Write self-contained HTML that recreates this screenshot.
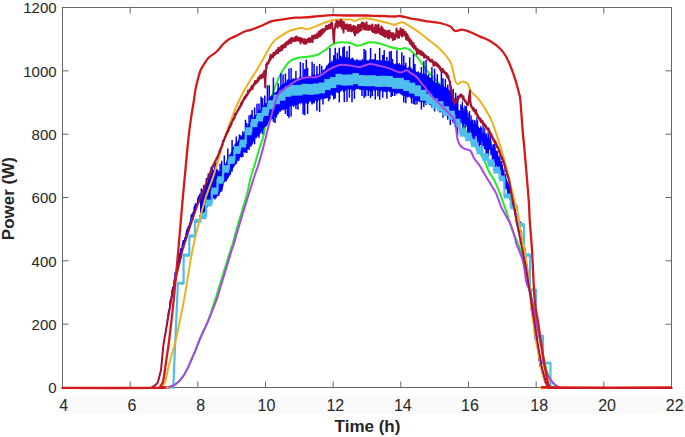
<!DOCTYPE html>
<html><head><meta charset="utf-8"><style>
html,body{margin:0;padding:0;background:#fff;width:685px;height:437px;overflow:hidden;font-family:"Liberation Sans",sans-serif}
</style></head><body>
<svg width="685" height="437" viewBox="0 0 685 437" style="position:absolute;left:0;top:0">
<rect x="57" y="396" width="628" height="18" fill="#fafafa"/>
<rect x="62.5" y="7.5" width="609" height="380" fill="#fff" stroke="#666" stroke-width="1"/>
<path d="M62.50 387.5 V381.5 M62.50 7.5 V13.5 M130.17 387.5 V381.5 M130.17 7.5 V13.5 M197.83 387.5 V381.5 M197.83 7.5 V13.5 M265.50 387.5 V381.5 M265.50 7.5 V13.5 M333.17 387.5 V381.5 M333.17 7.5 V13.5 M400.83 387.5 V381.5 M400.83 7.5 V13.5 M468.50 387.5 V381.5 M468.50 7.5 V13.5 M536.17 387.5 V381.5 M536.17 7.5 V13.5 M603.83 387.5 V381.5 M603.83 7.5 V13.5 M671.50 387.5 V381.5 M671.50 7.5 V13.5 M62.5 387.50 H68.5 M671.5 387.50 H665.5 M62.5 324.17 H68.5 M671.5 324.17 H665.5 M62.5 260.83 H68.5 M671.5 260.83 H665.5 M62.5 197.50 H68.5 M671.5 197.50 H665.5 M62.5 134.17 H68.5 M671.5 134.17 H665.5 M62.5 70.83 H68.5 M671.5 70.83 H665.5 M62.5 7.50 H68.5 M671.5 7.50 H665.5" stroke="#666" stroke-width="1" fill="none"/>
<path d="M62.50 387.90 C78.75 387.90 141.85 388.17 160.00 387.90 C178.15 387.63 168.53 387.12 171.40 386.30 C174.27 385.48 175.28 384.62 177.20 383.00 C179.12 381.38 181.18 379.00 182.90 376.60 C184.62 374.20 186.07 371.45 187.50 368.60 C188.93 365.75 190.17 362.55 191.50 359.50 C192.83 356.45 194.17 353.55 195.50 350.30 C196.83 347.05 198.08 343.38 199.50 340.00 C200.92 336.62 202.50 333.33 204.00 330.00 C205.50 326.67 206.67 325.00 208.50 320.00 C210.33 315.00 213.38 305.00 215.00 300.00 C216.62 295.00 215.62 298.33 218.20 290.00 C220.78 281.67 228.13 257.50 230.50 250.00 C232.87 242.50 231.43 248.33 232.40 245.00 C233.37 241.67 235.05 234.52 236.30 230.00 C237.55 225.48 238.17 223.73 239.90 217.90 C241.63 212.07 244.92 201.65 246.70 195.00 C248.48 188.35 249.28 183.00 250.60 178.00 C251.92 173.00 253.17 169.80 254.60 165.00 C256.03 160.20 257.83 153.67 259.20 149.20 C260.57 144.73 261.58 142.73 262.80 138.20 C264.02 133.67 265.30 127.70 266.50 122.00 C267.70 116.30 268.92 108.83 270.00 104.00 C271.08 99.17 271.83 96.67 273.00 93.00 C274.17 89.33 275.80 85.00 277.00 82.00 C278.20 79.00 278.75 77.70 280.20 75.00 C281.65 72.30 283.87 68.25 285.70 65.80 C287.53 63.35 288.90 61.67 291.20 60.30 C293.50 58.93 297.20 58.15 299.50 57.60 C301.80 57.05 302.25 57.38 305.00 57.00 C307.75 56.62 312.57 56.50 316.00 55.30 C319.43 54.10 322.85 51.63 325.60 49.80 C328.35 47.97 329.98 45.55 332.50 44.30 C335.02 43.05 337.73 42.52 340.70 42.30 C343.67 42.08 347.55 42.43 350.30 43.00 C353.05 43.57 354.75 45.58 357.20 45.70 C359.65 45.82 362.87 44.27 365.00 43.70 C367.13 43.13 367.50 42.33 370.00 42.30 C372.50 42.27 376.67 42.72 380.00 43.50 C383.33 44.28 386.67 46.08 390.00 47.00 C393.33 47.92 397.50 48.83 400.00 49.00 C402.50 49.17 403.33 47.83 405.00 48.00 C406.67 48.17 407.80 48.30 410.00 50.00 C412.20 51.70 415.92 55.45 418.20 58.20 C420.48 60.95 421.63 63.75 423.70 66.50 C425.77 69.25 428.30 72.18 430.60 74.70 C432.90 77.22 435.22 79.30 437.50 81.60 C439.78 83.90 442.12 86.02 444.30 88.50 C446.48 90.98 448.52 93.12 450.60 96.50 C452.68 99.88 454.73 104.05 456.80 108.80 C458.87 113.55 460.80 120.13 463.00 125.00 C465.20 129.87 467.83 134.25 470.00 138.00 C472.17 141.75 473.78 144.08 476.00 147.50 C478.22 150.92 481.17 154.53 483.30 158.50 C485.43 162.47 486.97 167.65 488.80 171.30 C490.63 174.95 492.47 176.73 494.30 180.40 C496.13 184.07 497.75 187.97 499.80 193.30 C501.85 198.63 504.52 206.28 506.60 212.40 C508.68 218.52 510.15 224.15 512.30 230.00 C514.45 235.85 517.38 241.67 519.50 247.50 C521.62 253.33 523.25 257.92 525.00 265.00 C526.75 272.08 528.17 280.83 530.00 290.00 C531.83 299.17 534.17 310.83 536.00 320.00 C537.83 329.17 539.33 337.00 541.00 345.00 C542.67 353.00 544.33 362.00 546.00 368.00 C547.67 374.00 549.20 377.98 551.00 381.00 C552.80 384.02 555.30 384.95 556.80 386.10 C558.30 387.25 540.88 387.60 560.00 387.90 C579.12 388.20 652.92 387.90 671.50 387.90" stroke="#22ee22" stroke-width="2.0" fill="none" stroke-linejoin="round"/>
<path d="M165.0 335.8 L165.3 333.7 L165.7 331.7 L166.0 329.6 L166.4 327.1 L166.7 325.7 L167.1 323.4 L167.4 319.2 L167.8 317.6 L168.1 314.2 L168.5 311.5 L168.8 310.7 L169.2 311.4 L169.5 309.1 L169.9 302.3 L170.2 300.4 L170.6 299.6 L170.9 301.1 L171.3 297.0 L171.6 297.4 L172.0 289.3 L172.3 294.4 L172.7 286.7 L173.0 288.4 L173.4 288.9 L173.7 286.0 L174.1 279.4 L174.4 282.3 L174.8 278.2 L175.1 272.3 L175.5 273.9 L175.8 272.0 L176.2 273.8 L176.5 268.3 L176.9 270.4 L177.2 269.9 L177.6 262.1 L177.9 259.8 L178.3 265.4 L178.6 260.9 L179.0 254.7 L179.3 252.8 L179.7 262.9 L180.0 256.6 L180.4 251.5 L180.7 248.2 L181.1 257.8 L181.4 252.0 L181.8 251.2 L182.1 245.6 L182.5 244.0 L182.8 244.0 L183.2 240.0 L183.5 244.2 L183.9 240.8 L184.2 244.1 L184.6 238.5 L184.9 237.9 L185.3 237.3 L185.6 241.0 L186.0 233.4 L186.3 236.2 L186.7 230.0 L187.0 232.6 L187.4 228.3 L187.7 233.7 L188.1 226.2 L188.4 231.3 L188.8 228.2 L189.1 224.9 L189.5 228.8 L189.8 222.2 L190.2 224.8 L190.5 222.3 L190.9 219.7 L191.2 214.7 L191.6 217.3 L191.9 214.9 L192.3 215.5 L192.6 219.8 L193.0 211.9 L193.3 215.0 L193.7 213.8 L194.0 208.4 L194.4 209.1 L194.7 205.3 L195.1 212.0 L195.4 204.6 L195.8 205.2 L196.1 203.7 L196.5 207.1 L196.8 206.4 L197.2 203.3 L197.5 202.0 L197.9 197.4 L198.2 203.3 L198.6 195.7 L198.9 197.1 L199.3 196.4 L199.6 198.5 L200.0 197.2 L200.3 193.6 L200.7 197.4 L201.0 197.0 L201.4 188.3 L201.7 192.7" stroke="#0000ff" stroke-width="1.3" fill="none"/>
<path d="M200.0 196.9 L200.8 194.3 L201.6 192.4 L202.4 189.7 L203.2 188.6 L204.0 186.1 L204.8 185.0 L205.6 183.2 L206.4 181.7 L207.2 178.3 L208.0 178.0 L208.8 175.8 L209.6 174.4 L210.4 174.1 L211.2 170.5 L212.0 170.9 L212.8 169.9 L213.6 169.9 L214.4 167.8 L215.2 169.6 L216.0 167.9 L216.8 169.0 L217.6 169.0 L218.4 170.4 L219.2 172.1 L220.0 170.8 L220.8 169.7 L221.6 169.9 L222.4 168.5 L223.2 167.6 L224.0 164.9 L224.8 165.3 L225.6 163.4 L226.4 161.7 L227.2 158.0 L228.0 157.3 L228.8 154.2 L229.6 155.0 L230.4 153.6 L231.2 152.0 L232.0 148.0 L232.8 147.5 L233.6 146.6 L234.4 145.2 L235.2 142.6 L236.0 143.9 L236.8 141.6 L237.6 141.4 L238.4 139.5 L239.2 140.0 L240.0 137.9 L240.8 136.5 L241.6 136.5 L242.4 134.5 L243.2 134.7 L244.0 131.8 L244.8 131.1 L245.6 128.5 L246.4 127.4 L247.2 126.5 L248.0 125.2 L248.8 123.3 L249.6 122.9 L250.4 119.3 L251.2 120.6 L252.0 117.6 L252.8 119.1 L253.6 116.8 L254.4 115.4 L255.2 115.1 L256.0 115.1 L256.8 114.6 L257.6 112.1 L258.4 110.1 L259.2 109.8 L260.0 111.0 L260.8 109.7 L261.6 108.7 L262.4 106.1 L263.2 106.3 L264.0 103.8 L264.8 103.1 L265.6 102.7 L266.4 103.7 L267.2 101.8 L268.0 101.4 L268.8 98.1 L269.6 98.2 L270.4 96.3 L271.2 95.8 L272.0 94.4 L272.8 95.9 L273.6 93.2 L274.4 92.7 L275.2 92.2 L276.0 92.0 L276.8 91.2 L277.6 89.1 L278.4 87.9 L279.2 88.2 L280.0 85.7 L280.8 84.9 L281.6 85.8 L282.4 83.8 L283.2 83.7 L284.0 83.4 L284.8 83.1 L285.6 82.2 L286.4 82.0 L287.2 81.5 L288.0 79.8 L288.8 81.7 L289.6 78.9 L290.4 80.0 L291.2 79.9 L292.0 79.3 L292.8 78.6 L293.6 78.1 L294.4 78.7 L295.2 78.4 L296.0 78.8 L296.8 77.8 L297.6 79.2 L298.4 78.3 L299.2 76.7 L300.0 77.7 L300.8 79.2 L301.6 76.2 L302.4 77.8 L303.2 78.7 L304.0 76.8 L304.8 77.3 L305.6 76.5 L306.4 76.1 L307.2 76.9 L308.0 76.7 L308.8 75.7 L309.6 76.1 L310.4 76.0 L311.2 76.5 L312.0 74.3 L312.8 74.2 L313.6 74.5 L314.4 74.4 L315.2 75.8 L316.0 74.6 L316.8 75.7 L317.6 74.2 L318.4 73.7 L319.2 74.7 L320.0 72.8 L320.8 74.5 L321.6 73.1 L322.4 70.6 L323.2 69.6 L324.0 70.2 L324.8 69.1 L325.6 67.7 L326.4 65.0 L327.2 66.2 L328.0 63.0 L328.8 63.8 L329.6 62.6 L330.4 63.1 L331.2 61.8 L332.0 59.6 L332.8 61.9 L333.6 61.0 L334.4 60.0 L335.2 57.9 L336.0 59.7 L336.8 58.4 L337.6 58.7 L338.4 59.3 L339.2 58.7 L340.0 55.7 L340.8 58.0 L341.6 57.1 L342.4 58.1 L343.2 57.1 L344.0 57.4 L344.8 57.5 L345.6 56.7 L346.4 57.4 L347.2 58.8 L348.0 56.9 L348.8 57.2 L349.6 59.4 L350.4 59.1 L351.2 58.8 L352.0 57.6 L352.8 57.8 L353.6 58.5 L354.4 60.5 L355.2 59.5 L356.0 60.7 L356.8 58.7 L357.6 59.4 L358.4 59.9 L359.2 60.9 L360.0 58.9 L360.8 61.1 L361.6 59.9 L362.4 58.6 L363.2 59.8 L364.0 59.6 L364.8 60.5 L365.6 61.3 L366.4 60.0 L367.2 60.6 L368.0 59.7 L368.8 60.8 L369.6 58.8 L370.4 60.7 L371.2 59.0 L372.0 60.3 L372.8 59.1 L373.6 59.5 L374.4 59.0 L375.2 59.5 L376.0 60.3 L376.8 60.1 L377.6 59.7 L378.4 60.2 L379.2 61.0 L380.0 59.6 L380.8 60.4 L381.6 60.3 L382.4 61.9 L383.2 60.1 L384.0 61.4 L384.8 60.2 L385.6 60.4 L386.4 62.0 L387.2 61.7 L388.0 60.9 L388.8 60.5 L389.6 62.9 L390.4 61.7 L391.2 62.9 L392.0 62.2 L392.8 62.9 L393.6 62.9 L394.4 64.3 L395.2 64.3 L396.0 63.1 L396.8 63.3 L397.6 62.7 L398.4 64.4 L399.2 62.6 L400.0 63.4 L400.8 65.4 L401.6 63.2 L402.4 65.6 L403.2 65.5 L404.0 65.8 L404.8 65.4 L405.6 65.2 L406.4 67.9 L407.2 67.7 L408.0 68.1 L408.8 66.3 L409.6 68.7 L410.4 67.3 L411.2 67.6 L412.0 68.9 L412.8 69.4 L413.6 68.3 L414.4 70.6 L415.2 70.3 L416.0 71.6 L416.8 72.0 L417.6 71.6 L418.4 71.0 L419.2 73.0 L420.0 72.7 L420.8 71.9 L421.6 74.0 L422.4 74.1 L423.2 73.2 L424.0 73.6 L424.8 73.4 L425.6 75.5 L426.4 75.1 L427.2 75.7 L428.0 76.1 L428.8 76.2 L429.6 77.7 L430.4 77.6 L431.2 78.1 L432.0 78.5 L432.8 79.7 L433.6 81.3 L434.4 79.6 L435.2 82.2 L436.0 82.7 L436.8 82.4 L437.6 82.7 L438.4 83.7 L439.2 83.6 L440.0 84.5 L440.8 85.7 L441.6 85.8 L442.4 84.7 L443.2 84.6 L444.0 87.7 L444.8 86.5 L445.6 88.2 L446.4 87.0 L447.2 88.2 L448.0 88.4 L448.8 90.0 L449.6 91.1 L450.4 90.8 L451.2 92.6 L452.0 93.5 L452.8 94.8 L453.6 98.5 L454.4 97.6 L455.2 101.3 L456.0 100.3 L456.8 98.5 L457.6 100.8 L458.4 98.3 L458.4 127.3 L457.6 126.9 L456.8 127.1 L456.0 127.2 L455.2 126.9 L454.4 125.5 L453.6 122.9 L452.8 123.4 L452.0 120.2 L451.2 118.5 L450.4 118.2 L449.6 117.3 L448.8 117.0 L448.0 116.8 L447.2 117.1 L446.4 115.3 L445.6 115.6 L444.8 114.7 L444.0 114.0 L443.2 113.7 L442.4 110.6 L441.6 112.0 L440.8 109.5 L440.0 110.4 L439.2 111.0 L438.4 109.8 L437.6 109.1 L436.8 107.1 L436.0 107.0 L435.2 108.2 L434.4 108.1 L433.6 105.0 L432.8 106.2 L432.0 103.9 L431.2 105.2 L430.4 105.5 L429.6 105.1 L428.8 104.0 L428.0 104.3 L427.2 102.7 L426.4 103.0 L425.6 101.2 L424.8 103.7 L424.0 101.4 L423.2 101.4 L422.4 102.7 L421.6 100.5 L420.8 102.1 L420.0 101.9 L419.2 101.4 L418.4 101.3 L417.6 100.7 L416.8 101.1 L416.0 101.0 L415.2 100.2 L414.4 100.0 L413.6 97.9 L412.8 97.6 L412.0 97.7 L411.2 97.9 L410.4 98.7 L409.6 96.7 L408.8 97.0 L408.0 96.8 L407.2 97.9 L406.4 96.4 L405.6 95.7 L404.8 95.7 L404.0 96.6 L403.2 94.4 L402.4 95.7 L401.6 95.5 L400.8 93.5 L400.0 94.9 L399.2 92.6 L398.4 93.6 L397.6 93.0 L396.8 94.9 L396.0 93.8 L395.2 93.2 L394.4 93.2 L393.6 91.8 L392.8 92.8 L392.0 93.2 L391.2 92.9 L390.4 91.9 L389.6 92.4 L388.8 90.8 L388.0 91.8 L387.2 92.1 L386.4 93.2 L385.6 91.8 L384.8 91.9 L384.0 91.1 L383.2 92.0 L382.4 90.2 L381.6 90.6 L380.8 92.5 L380.0 90.0 L379.2 91.2 L378.4 90.1 L377.6 91.6 L376.8 89.9 L376.0 90.2 L375.2 92.2 L374.4 90.7 L373.6 89.7 L372.8 91.8 L372.0 91.7 L371.2 91.9 L370.4 89.7 L369.6 91.7 L368.8 89.9 L368.0 90.3 L367.2 90.5 L366.4 90.1 L365.6 90.5 L364.8 91.4 L364.0 89.8 L363.2 89.6 L362.4 90.5 L361.6 90.0 L360.8 89.6 L360.0 90.4 L359.2 89.3 L358.4 88.7 L357.6 89.5 L356.8 88.7 L356.0 89.2 L355.2 90.1 L354.4 90.7 L353.6 90.3 L352.8 91.3 L352.0 89.6 L351.2 89.0 L350.4 89.6 L349.6 91.2 L348.8 89.6 L348.0 89.6 L347.2 89.3 L346.4 90.4 L345.6 91.5 L344.8 89.3 L344.0 92.2 L343.2 92.2 L342.4 90.0 L341.6 90.8 L340.8 92.0 L340.0 91.3 L339.2 91.3 L338.4 93.2 L337.6 93.1 L336.8 92.0 L336.0 93.2 L335.2 92.9 L334.4 92.8 L333.6 94.2 L332.8 95.9 L332.0 95.8 L331.2 94.8 L330.4 94.5 L329.6 95.4 L328.8 95.3 L328.0 98.3 L327.2 97.5 L326.4 98.6 L325.6 98.4 L324.8 98.7 L324.0 99.1 L323.2 98.3 L322.4 98.8 L321.6 99.6 L320.8 99.2 L320.0 100.5 L319.2 100.2 L318.4 100.0 L317.6 102.7 L316.8 100.8 L316.0 100.5 L315.2 101.3 L314.4 101.7 L313.6 103.3 L312.8 102.8 L312.0 103.3 L311.2 102.9 L310.4 101.3 L309.6 101.6 L308.8 104.0 L308.0 103.4 L307.2 101.8 L306.4 104.3 L305.6 102.7 L304.8 104.6 L304.0 104.8 L303.2 104.7 L302.4 102.8 L301.6 102.7 L300.8 105.1 L300.0 102.7 L299.2 103.8 L298.4 104.3 L297.6 103.0 L296.8 105.6 L296.0 104.7 L295.2 105.7 L294.4 105.4 L293.6 104.6 L292.8 105.1 L292.0 106.5 L291.2 105.3 L290.4 106.8 L289.6 107.1 L288.8 105.6 L288.0 106.9 L287.2 109.2 L286.4 109.4 L285.6 108.2 L284.8 108.7 L284.0 111.1 L283.2 109.8 L282.4 109.7 L281.6 110.3 L280.8 112.3 L280.0 110.7 L279.2 112.8 L278.4 114.3 L277.6 114.7 L276.8 115.6 L276.0 115.1 L275.2 115.7 L274.4 116.2 L273.6 116.8 L272.8 119.6 L272.0 118.5 L271.2 120.0 L270.4 119.9 L269.6 122.0 L268.8 121.9 L268.0 123.3 L267.2 125.8 L266.4 126.0 L265.6 126.4 L264.8 127.2 L264.0 128.2 L263.2 131.3 L262.4 130.3 L261.6 131.9 L260.8 133.6 L260.0 133.5 L259.2 135.0 L258.4 136.2 L257.6 136.2 L256.8 138.7 L256.0 137.3 L255.2 139.3 L254.4 140.2 L253.6 141.4 L252.8 143.6 L252.0 145.0 L251.2 145.4 L250.4 144.2 L249.6 145.0 L248.8 148.4 L248.0 149.2 L247.2 149.6 L246.4 150.4 L245.6 151.8 L244.8 153.3 L244.0 152.0 L243.2 153.1 L242.4 157.0 L241.6 157.9 L240.8 156.7 L240.0 157.6 L239.2 161.3 L238.4 161.0 L237.6 160.6 L236.8 164.1 L236.0 164.1 L235.2 165.1 L234.4 166.6 L233.6 167.8 L232.8 168.9 L232.0 169.0 L231.2 173.1 L230.4 174.4 L229.6 175.9 L228.8 177.3 L228.0 178.6 L227.2 179.8 L226.4 180.4 L225.6 180.5 L224.8 181.9 L224.0 183.3 L223.2 186.5 L222.4 189.7 L221.6 190.3 L220.8 192.0 L220.0 192.7 L219.2 194.6 L218.4 195.0 L217.6 196.5 L216.8 195.7 L216.0 197.2 L215.2 197.4 L214.4 198.4 L213.6 197.9 L212.8 199.4 L212.0 198.5 L211.2 200.3 L210.4 201.6 L209.6 202.9 L208.8 204.2 L208.0 206.8 L207.2 207.4 L206.4 207.5 L205.6 209.4 L204.8 212.7 L204.0 211.7 L203.2 214.9 L202.4 214.0 L201.6 216.9 L200.8 215.1 L200.0 217.2 Z" fill="#0000ff"/>
<path d="M456.0 103.1 L456.4 123.0 L456.8 107.7 L457.2 126.6 L457.6 104.3 L458.0 126.9 L458.4 110.0 L458.8 120.0 L459.2 110.5 L459.6 124.2 L460.0 110.7 L460.4 126.4 L460.8 104.2 L461.2 120.8 L461.6 106.2 L462.0 123.6 L462.4 101.3 L462.8 129.5 L463.2 107.7 L463.6 125.7 L464.0 110.9 L464.4 123.9 L464.8 105.6 L465.2 129.3 L465.6 106.9 L466.0 127.1 L466.4 105.7 L466.8 124.5 L467.2 109.9 L467.6 132.0 L468.0 118.0 L468.4 134.7 L468.8 112.4 L469.2 132.6 L469.6 111.0 L470.0 134.6 L470.4 120.9 L470.8 130.5 L471.2 115.2 L471.6 139.2 L472.0 120.2 L472.4 138.2 L472.8 119.5 L473.2 144.3 L473.6 123.6 L474.0 135.6 L474.4 120.0 L474.8 146.8 L475.2 120.7 L475.6 136.4 L476.0 124.5 L476.4 135.4 L476.8 117.8 L477.2 143.0 L477.6 120.2 L478.0 146.2 L478.4 126.6 L478.8 141.5 L479.2 127.9 L479.6 146.8 L480.0 128.0 L480.4 145.0 L480.8 125.8 L481.2 141.2 L481.6 127.5 L482.0 153.2 L482.4 133.3 L482.8 142.3 L483.2 125.1 L483.6 145.9 L484.0 133.2 L484.4 148.9 L484.8 128.1 L485.2 149.6 L485.6 134.1 L486.0 154.3 L486.4 133.4 L486.8 153.9 L487.2 137.4 L487.6 154.3 L488.0 132.0 L488.4 156.2 L488.8 134.0 L489.2 149.5 L489.6 138.5 L490.0 150.0 L490.4 136.0 L490.8 155.6 L491.2 141.3 L491.6 153.8 L492.0 147.4 L492.4 163.5 L492.8 144.4 L493.2 161.9 L493.6 144.3 L494.0 167.6 L494.4 144.0 L494.8 161.6 L495.2 146.4 L495.6 169.1 L496.0 150.6 L496.4 165.6 L496.8 151.1 L497.2 172.0 L497.6 151.3 L498.0 172.4 L498.4 156.9 L498.8 170.2 L499.2 155.3 L499.6 171.4 L500.0 157.5 L500.4 171.9 L500.8 161.4 L501.2 175.0 L501.6 161.0 L502.0 180.6 L502.4 164.7 L502.8 179.7 L503.2 170.5 L503.6 181.5 L504.0 168.8 L504.4 187.6 L504.8 175.8 L505.2 188.6 L505.6 173.8 L506.0 189.5 L506.4 178.6 L506.8 188.3 L507.2 180.8 L507.6 195.8 L508.0 182.7 L508.4 195.5 L508.8 183.6 L509.2 197.4 L509.6 184.7 L510.0 200.3 L510.4 189.2 L510.8 204.0 L511.2 190.8 L511.6 204.3 L512.0 191.8 L512.4 204.5 L512.8 198.5 L513.2 205.9 L513.6 200.4 L514.0 208.0 L514.4 202.1 L514.8 214.9 L515.2 204.1 L515.6 216.6 L516.0 206.3 L516.4 217.1 L516.8 212.0 L517.2 220.6 L517.6 213.2 L518.0 221.7 L518.4 216.9 L518.8 224.7 L519.2 219.7 L519.6 226.2 L520.0 221.1 L520.4 227.8 L520.8 221.9" stroke="#0000ff" stroke-width="1.1" fill="none"/>
<path d="M200.0 199.0 V194.0 M200.0 215.0 V218.7 M201.7 194.2 V188.9 M201.7 213.3 V216.7 M203.8 188.5 V184.9 M206.4 182.2 V178.1 M208.3 178.5 V173.4 M208.3 202.8 V206.2 M211.1 173.9 V167.2 M211.1 198.4 V202.1 M212.4 172.6 V165.7 M214.9 170.1 V164.0 M214.9 196.1 V199.4 M216.1 170.9 V162.2 M216.1 195.1 V198.1 M218.7 193.0 V195.7 M220.1 173.8 V163.7 M221.7 171.2 V160.8 M221.7 187.8 V191.6 M224.3 167.1 V155.4 M226.1 178.3 V181.6 M227.8 159.9 V148.6 M229.9 172.1 V174.9 M232.1 151.2 V139.9 M232.1 168.2 V171.4 M236.3 144.7 V136.6 M239.4 141.6 V134.4 M240.7 139.9 V135.2 M242.8 136.6 V131.2 M242.8 153.1 V157.0 M245.5 131.9 V119.7 M245.5 149.4 V152.4 M246.8 129.5 V122.9 M246.8 147.9 V153.0 M249.1 124.8 V115.3 M249.1 145.1 V149.9 M250.8 122.0 V114.5 M250.8 143.0 V146.8 M252.1 120.5 V110.1 M252.1 141.5 V144.6 M254.6 117.5 V107.6 M254.6 138.5 V144.2 M257.0 115.0 V103.7 M259.0 113.0 V103.6 M259.0 133.2 V137.7 M261.1 110.7 V96.5 M262.6 108.8 V97.9 M262.6 128.8 V134.3 M264.8 106.2 V95.6 M267.4 103.2 V85.3 M269.3 100.8 V85.3 M273.4 95.9 V77.5 M273.4 115.9 V122.0 M275.1 114.4 V122.9 M276.4 113.2 V117.4 M278.2 90.1 V83.2 M280.9 87.4 V73.2 M283.1 86.2 V74.6 M285.4 84.8 V73.4 M285.4 106.8 V114.1 M287.5 83.5 V79.6 M287.5 105.5 V116.1 M289.0 82.6 V68.4 M289.0 104.6 V117.9 M291.1 81.8 V68.1 M291.1 103.8 V116.4 M293.5 103.3 V106.9 M295.9 80.8 V70.9 M295.9 102.8 V108.9 M297.9 102.4 V109.8 M300.4 79.9 V62.1 M303.1 79.4 V63.1 M303.1 101.5 V114.4 M304.7 79.1 V69.1 M304.7 101.3 V115.3 M306.3 78.7 V59.4 M307.6 78.5 V67.8 M307.6 100.9 V114.0 M312.1 77.6 V61.7 M312.1 100.2 V104.5 M314.1 77.2 V63.7 M314.1 99.9 V103.4 M316.9 76.6 V66.0 M316.9 99.5 V110.8 M319.6 76.1 V64.1 M319.6 99.1 V112.1 M321.7 74.0 V65.8 M323.0 97.5 V104.4 M328.6 94.7 V101.3 M329.9 64.1 V48.1 M329.9 94.1 V99.3 M333.8 62.1 V55.2 M333.8 92.1 V99.4 M335.2 61.4 V47.8 M335.2 91.4 V98.4 M337.3 60.4 V52.8 M339.3 59.4 V47.7 M339.3 89.4 V102.5 M340.8 59.1 V55.8 M342.9 59.4 V47.3 M344.3 59.7 V46.2 M344.3 88.8 V102.1 M347.0 60.0 V51.0 M347.0 88.7 V101.8 M349.4 60.4 V45.9 M349.4 88.5 V97.7 M352.0 88.4 V102.3 M354.4 88.3 V98.7 M362.0 88.1 V96.0 M364.1 62.0 V49.0 M364.1 88.2 V97.9 M365.7 62.0 V50.2 M365.7 88.3 V96.6 M368.3 88.4 V96.1 M370.6 62.0 V48.0 M370.6 88.5 V97.9 M372.4 62.0 V59.6 M372.4 88.6 V96.1 M375.3 62.0 V53.5 M375.3 88.8 V99.6 M377.9 88.9 V96.4 M379.7 62.0 V48.0 M379.7 89.0 V99.7 M382.7 62.5 V54.9 M382.7 89.4 V97.8 M384.2 62.8 V50.2 M386.9 63.4 V57.0 M386.9 90.0 V98.7 M389.5 63.9 V51.5 M391.2 64.2 V51.0 M391.2 90.7 V97.0 M392.5 64.5 V59.0 M392.5 90.9 V95.9 M394.7 91.2 V96.1 M396.9 65.4 V50.2 M401.8 66.7 V52.3 M403.8 67.5 V55.6 M403.8 93.3 V102.6 M405.8 68.3 V62.8 M405.8 94.0 V103.2 M409.7 69.9 V57.2 M411.6 96.1 V103.5 M413.5 71.4 V54.1 M413.5 96.7 V104.1 M414.9 71.9 V63.9 M414.9 97.2 V104.7 M417.0 98.0 V104.4 M418.8 98.6 V101.2 M421.4 74.9 V67.0 M421.4 99.4 V109.4 M423.8 76.3 V61.2 M423.8 100.2 V107.0 M426.0 77.6 V60.1 M426.0 100.8 V105.1 M428.5 79.1 V74.0 M431.9 81.2 V67.0 M431.9 103.2 V107.9 M434.6 82.8 V68.7 M434.6 104.8 V111.6 M437.3 84.4 V74.2 M440.0 108.0 V112.6 M441.4 86.8 V71.5 M443.0 87.8 V78.2 M443.0 110.4 V117.7 M445.4 89.2 V78.9 M447.8 90.7 V84.4 M447.8 114.2 V119.7 M450.3 92.6 V81.1 M450.3 116.5 V125.1 M453.2 98.4 V89.1 M455.6 101.9 V92.8 M457.5 101.6 V95.8 M457.5 125.4 V135.3" stroke="#0000ff" stroke-width="1.5" fill="none"/>
<path d="M518.0 213.5 L518.4 215.1 L518.7 224.0 L519.1 225.7 L519.4 226.4 L519.8 230.7 L520.1 227.2 L520.5 232.2 L520.8 230.0 L521.2 232.4 L521.5 232.0 L521.9 240.6 L522.2 243.6 L522.6 239.2 L522.9 241.7 L523.3 240.8 L523.6 242.8 L524.0 249.5 L524.3 253.7 L524.7 247.4 L525.0 250.9 L525.4 259.4 L525.7 254.1 L526.1 266.5 L526.4 261.2 L526.8 265.7 L527.1 264.2 L527.5 268.3 L527.8 273.0 L528.2 273.4 L528.5 282.9 L528.9 275.0 L529.2 286.9 L529.6 295.1 L529.9 287.5 L530.3 288.1 L530.6 290.6 L531.0 294.4 L531.3 310.4 L531.7 310.2 L532.0 304.0 L532.4 313.2 L532.7 318.0 L533.1 316.4 L533.4 314.8 L533.8 323.2 L534.1 324.8 L534.5 335.6 L534.8 330.1 L535.2 339.1 L535.5 340.5 L535.9 339.1 L536.2 335.9 L536.6 345.9 L536.9 339.6 L537.3 347.1 L537.6 343.8 L538.0 345.8 L538.3 351.5 L538.7 350.6 L539.0 361.3 L539.4 359.1 L539.7 363.8 L540.1 366.0 L540.4 365.8 L540.8 366.3 L541.1 366.4 L541.5 370.9 L541.8 371.5 L542.2 368.4 L542.5 373.5 L542.9 374.1 L543.2 376.2 L543.6 378.3 L543.9 379.2 L544.3 379.5 L544.6 381.7 L545.0 382.9 L545.3 379.8 L545.7 381.0 L546.0 381.5 L546.4 383.1 L546.7 386.2 L547.1 384.9 L547.4 385.8 L547.8 386.3 L548.1 387.1 L548.5 386.8 L548.8 387.7" stroke="#0000ff" stroke-width="1.2" fill="none"/>
<g fill="#4dbeee"><rect x="177.60" y="281.74" width="6.44" height="2.92"/><rect x="183.24" y="253.62" width="6.44" height="3.15"/><rect x="188.88" y="234.31" width="6.44" height="3.38"/><rect x="194.52" y="218.80" width="6.44" height="4.32"/><rect x="200.16" y="213.01" width="6.44" height="6.01"/><rect x="205.80" y="199.57" width="6.44" height="6.77"/><rect x="211.44" y="187.51" width="6.44" height="7.14"/><rect x="217.08" y="176.25" width="6.44" height="7.50"/><rect x="222.72" y="165.14" width="6.44" height="7.60"/><rect x="228.36" y="156.19" width="6.44" height="7.69"/><rect x="234.00" y="146.08" width="6.44" height="7.79"/><rect x="239.64" y="139.61" width="6.44" height="7.88"/><rect x="245.28" y="127.29" width="6.44" height="7.97"/><rect x="250.92" y="118.93" width="6.44" height="8.21"/><rect x="256.56" y="112.98" width="6.44" height="8.49"/><rect x="262.20" y="107.11" width="6.44" height="8.77"/><rect x="267.84" y="100.29" width="6.44" height="9.11"/><rect x="273.48" y="94.58" width="6.44" height="9.67"/><rect x="279.12" y="90.44" width="6.44" height="10.23"/><rect x="284.76" y="86.28" width="6.44" height="10.53"/><rect x="290.40" y="85.04" width="6.44" height="10.60"/><rect x="296.04" y="84.88" width="6.44" height="10.66"/><rect x="301.68" y="83.76" width="6.44" height="10.72"/><rect x="307.32" y="84.05" width="6.44" height="10.78"/><rect x="312.96" y="83.41" width="6.44" height="10.85"/><rect x="318.60" y="82.49" width="6.44" height="10.91"/><rect x="324.24" y="79.09" width="6.44" height="10.97"/><rect x="329.88" y="77.06" width="6.44" height="11.00"/><rect x="335.52" y="73.81" width="6.44" height="11.00"/><rect x="341.16" y="74.62" width="6.44" height="11.00"/><rect x="346.80" y="74.39" width="6.44" height="11.00"/><rect x="352.44" y="73.08" width="6.44" height="11.00"/><rect x="358.08" y="75.03" width="6.44" height="11.00"/><rect x="363.72" y="75.28" width="6.44" height="11.00"/><rect x="369.36" y="75.19" width="6.44" height="11.00"/><rect x="375.00" y="75.96" width="6.44" height="11.00"/><rect x="380.64" y="75.70" width="6.44" height="11.00"/><rect x="386.28" y="75.98" width="6.44" height="11.00"/><rect x="391.92" y="77.83" width="6.44" height="11.00"/><rect x="397.56" y="77.89" width="6.44" height="11.00"/><rect x="403.20" y="80.13" width="6.44" height="11.00"/><rect x="408.84" y="82.62" width="6.44" height="11.00"/><rect x="414.48" y="85.30" width="6.44" height="11.00"/><rect x="420.12" y="89.85" width="6.44" height="10.83"/><rect x="425.76" y="93.89" width="6.44" height="10.55"/><rect x="431.40" y="98.32" width="6.44" height="10.27"/><rect x="437.04" y="101.26" width="6.44" height="9.98"/><rect x="442.68" y="106.22" width="6.44" height="9.56"/><rect x="448.32" y="110.66" width="6.44" height="9.13"/><rect x="453.96" y="118.69" width="6.44" height="8.71"/><rect x="459.60" y="128.23" width="6.44" height="8.41"/><rect x="465.24" y="132.91" width="6.44" height="8.22"/><rect x="470.88" y="139.08" width="6.44" height="8.03"/><rect x="476.52" y="146.40" width="6.44" height="7.84"/><rect x="482.16" y="153.28" width="6.44" height="7.65"/><rect x="487.80" y="159.31" width="6.44" height="7.42"/><rect x="493.44" y="166.62" width="6.44" height="7.00"/><rect x="499.08" y="175.65" width="5.72" height="5.50"/><rect x="504.00" y="193.50" width="7.20" height="5.00"/><rect x="510.40" y="204.75" width="7.20" height="4.50"/><rect x="516.80" y="222.80" width="7.60" height="4.00"/><rect x="523.60" y="253.25" width="6.80" height="3.50"/><rect x="529.60" y="288.50" width="6.80" height="3.00"/><rect x="535.60" y="334.70" width="7.80" height="2.60"/><rect x="542.60" y="361.70" width="8.30" height="2.60"/></g>
<g fill="none" stroke-linejoin="round" stroke-linecap="round">
<path d="M173.2 387.9 L177.9 283.3 L178.0 283.2 L183.6 283.2 L183.6 255.2 L189.3 255.2 L189.3 236.0 L194.9 236.0 L194.9 221.0 L200.6 221.0 L200.6 216.0 L206.2 216.0 L206.2 203.0 L211.8 203.0 L211.8 191.1 L217.5 191.1 L217.5 180.0 L223.1 180.0 L223.1 168.9 L228.8 168.9 L228.8 160.0 L234.4 160.0 L234.4 150.0 L240.0 150.0 L240.0 143.5 L245.7 143.5 L245.7 131.3 L251.3 131.3 L251.3 123.0 L257.0 123.0 L257.0 117.2 L262.6 117.2 L262.6 111.5 L268.2 111.5 L268.2 104.8 L273.9 104.8 L273.9 99.4 L279.5 99.4 L279.5 95.6 L285.2 95.6 L285.2 91.5 L290.8 91.5 L290.8 90.3 L296.4 90.3 L296.4 90.2 L302.1 90.2 L302.1 89.1 L307.7 89.1 L307.7 89.4 L313.4 89.4 L313.4 88.8 L319.0 88.8 L319.0 87.9 L324.6 87.9 L324.6 84.6 L330.3 84.6 L330.3 82.6 L335.9 82.6 L335.9 79.3 L341.6 79.3 L341.6 80.1 L347.2 80.1 L347.2 79.9 L352.8 79.9 L352.8 78.6 L358.5 78.6 L358.5 80.5 L364.1 80.5 L364.1 80.8 L369.8 80.8 L369.8 80.7 L375.4 80.7 L375.4 81.5 L381.0 81.5 L381.0 81.2 L386.7 81.2 L386.7 81.5 L392.3 81.5 L392.3 83.3 L398.0 83.3 L398.0 83.4 L403.6 83.4 L403.6 85.6 L409.2 85.6 L409.2 88.1 L414.9 88.1 L414.9 90.8 L420.5 90.8 L420.5 95.3 L426.2 95.3 L426.2 99.2 L431.8 99.2 L431.8 103.5 L437.4 103.5 L437.4 106.2 L443.1 106.2 L443.1 111.0 L448.7 111.0 L448.7 115.2 L454.4 115.2 L454.4 123.0 L460.0 123.0 L460.0 132.4 L465.6 132.4 L465.6 137.0 L471.3 137.0 L471.3 143.1 L476.9 143.1 L476.9 150.3 L482.6 150.3 L482.6 157.1 L488.2 157.1 L488.2 163.0 L493.8 163.0 L493.8 170.1 L499.5 170.1 L499.5 178.4 L504.4 178.4 L504.4 196.0 L510.8 196.0 L510.8 207.0 L517.2 207.0 L517.2 224.8 L524.0 224.8 L524.0 255.0 L530.0 255.0 L530.0 290.0 L536.0 290.0 L536.0 336.0 L543.0 336.0 L543.0 363.0 L550.5 363.0 L550.5 387.9" stroke="#4dbeee" stroke-width="2.2"/>
<path d="M62.50 387.90 C78.75 387.90 142.92 388.02 160.00 387.90 C177.08 387.78 163.10 387.47 165.00 387.20 C166.90 386.93 169.37 387.00 171.40 386.30 C173.43 385.60 175.28 384.62 177.20 383.00 C179.12 381.38 181.18 379.00 182.90 376.60 C184.62 374.20 186.07 371.45 187.50 368.60 C188.93 365.75 190.17 362.55 191.50 359.50 C192.83 356.45 194.17 353.55 195.50 350.30 C196.83 347.05 198.08 343.38 199.50 340.00 C200.92 336.62 202.50 333.33 204.00 330.00 C205.50 326.67 206.42 325.00 208.50 320.00 C210.58 315.00 214.65 305.00 216.50 300.00 C218.35 295.00 217.05 298.33 219.60 290.00 C222.15 281.67 229.47 257.50 231.80 250.00 C234.13 242.50 232.60 248.33 233.60 245.00 C234.60 241.67 235.32 238.33 237.80 230.00 C240.28 221.67 245.57 204.45 248.50 195.00 C251.43 185.55 253.77 178.30 255.40 173.30 C257.03 168.30 257.07 169.02 258.30 165.00 C259.53 160.98 261.43 154.28 262.80 149.20 C264.17 144.12 265.27 139.38 266.50 134.50 C267.73 129.62 268.97 124.48 270.20 119.90 C271.43 115.32 272.68 110.98 273.90 107.00 C275.12 103.02 276.13 98.75 277.50 96.00 C278.87 93.25 280.02 92.33 282.10 90.50 C284.18 88.67 287.58 86.67 290.00 85.00 C292.42 83.33 293.98 81.77 296.60 80.50 C299.22 79.23 302.67 77.92 305.70 77.40 C308.73 76.88 312.42 77.70 314.80 77.40 C317.18 77.10 317.47 77.00 320.00 75.60 C322.53 74.20 326.67 70.77 330.00 69.00 C333.33 67.23 336.67 65.58 340.00 65.00 C343.33 64.42 346.67 65.17 350.00 65.50 C353.33 65.83 356.67 67.25 360.00 67.00 C363.33 66.75 366.67 64.17 370.00 64.00 C373.33 63.83 376.67 65.23 380.00 66.00 C383.33 66.77 386.67 67.52 390.00 68.60 C393.33 69.68 397.17 72.22 400.00 72.50 C402.83 72.78 405.33 70.27 407.00 70.30 C408.67 70.33 408.58 71.75 410.00 72.70 C411.42 73.65 413.22 73.83 415.50 76.00 C417.78 78.17 421.12 82.47 423.70 85.70 C426.28 88.93 428.55 92.55 431.00 95.40 C433.45 98.25 435.93 100.32 438.40 102.80 C440.87 105.28 443.57 108.07 445.80 110.30 C448.03 112.53 450.32 114.47 451.80 116.20 C453.28 117.93 453.97 118.47 454.70 120.70 C455.43 122.93 455.70 126.38 456.20 129.60 C456.70 132.82 456.95 137.27 457.70 140.00 C458.45 142.73 459.48 144.50 460.70 146.00 C461.92 147.50 463.37 148.17 465.00 149.00 C466.63 149.83 468.97 149.42 470.50 151.00 C472.03 152.58 472.67 156.03 474.20 158.50 C475.73 160.97 477.88 163.05 479.70 165.80 C481.52 168.55 483.28 171.95 485.10 175.00 C486.92 178.05 488.77 181.05 490.60 184.10 C492.43 187.15 494.33 189.48 496.10 193.30 C497.87 197.12 499.63 203.38 501.20 207.00 C502.77 210.62 503.90 212.03 505.50 215.00 C507.10 217.97 509.12 220.63 510.80 224.80 C512.48 228.97 514.73 236.97 515.60 240.00 C516.47 243.03 514.78 239.50 516.00 243.00 C517.22 246.50 521.18 254.53 522.90 261.00 C524.62 267.47 525.17 276.80 526.30 281.80 C527.43 286.80 528.58 287.13 529.70 291.00 C530.82 294.87 531.78 299.33 533.00 305.00 C534.22 310.67 535.67 318.33 537.00 325.00 C538.33 331.67 539.63 337.62 541.00 345.00 C542.37 352.38 543.45 363.32 545.20 369.30 C546.95 375.28 549.57 378.10 551.50 380.90 C553.43 383.70 555.38 385.05 556.80 386.10 C558.22 387.15 558.97 386.90 560.00 387.20 C561.03 387.50 544.42 387.78 563.00 387.90 C581.58 388.02 653.42 387.90 671.50 387.90" stroke="#aa46e8" stroke-width="2.0"/>
<path d="M62.50 387.90 C78.75 387.90 143.42 388.13 160.00 387.90 C176.58 387.67 161.33 387.15 162.00 386.50 C162.67 385.85 163.38 385.08 164.00 384.00 C164.62 382.92 164.87 383.17 165.70 380.00 C166.53 376.83 167.53 370.83 169.00 365.00 C170.47 359.17 173.00 350.83 174.50 345.00 C176.00 339.17 176.42 337.50 178.00 330.00 C179.58 322.50 181.58 313.33 184.00 300.00 C186.42 286.67 189.90 263.33 192.50 250.00 C195.10 236.67 197.35 228.88 199.60 220.00 C201.85 211.12 203.72 203.93 206.00 196.70 C208.28 189.47 211.17 183.00 213.30 176.60 C215.43 170.20 217.03 164.40 218.80 158.30 C220.57 152.20 221.58 147.13 223.90 140.00 C226.22 132.87 229.97 122.52 232.70 115.50 C235.43 108.48 237.70 103.22 240.30 97.90 C242.90 92.58 246.02 87.52 248.30 83.60 C250.58 79.68 252.10 77.45 254.00 74.40 C255.90 71.35 257.80 68.53 259.70 65.30 C261.60 62.07 263.77 57.97 265.40 55.00 C267.03 52.03 267.95 49.93 269.50 47.50 C271.05 45.07 272.68 42.38 274.70 40.40 C276.72 38.42 279.30 37.08 281.60 35.60 C283.90 34.12 285.98 32.65 288.50 31.50 C291.02 30.35 294.42 29.28 296.70 28.70 C298.98 28.12 300.60 27.92 302.20 28.00 C303.80 28.08 304.68 29.22 306.30 29.20 C307.92 29.18 309.83 28.58 311.90 27.90 C313.97 27.22 316.42 26.02 318.70 25.10 C320.98 24.18 323.30 23.20 325.60 22.40 C327.90 21.60 329.98 20.77 332.50 20.30 C335.02 19.83 337.73 19.72 340.70 19.60 C343.67 19.48 348.00 19.37 350.30 19.60 C352.60 19.83 352.88 21.12 354.50 21.00 C356.12 20.88 358.25 19.37 360.00 18.90 C361.75 18.43 363.33 18.22 365.00 18.20 C366.67 18.18 367.50 18.33 370.00 18.80 C372.50 19.27 376.67 20.20 380.00 21.00 C383.33 21.80 387.50 22.98 390.00 23.60 C392.50 24.22 393.00 24.93 395.00 24.70 C397.00 24.47 399.50 21.93 402.00 22.20 C404.50 22.47 407.00 24.50 410.00 26.30 C413.00 28.10 416.67 30.55 420.00 33.00 C423.33 35.45 426.87 38.50 430.00 41.00 C433.13 43.50 436.18 45.58 438.80 48.00 C441.42 50.42 443.63 52.88 445.70 55.50 C447.77 58.12 449.60 59.45 451.20 63.70 C452.80 67.95 454.13 77.62 455.30 81.00 C456.47 84.38 457.00 83.93 458.20 84.00 C459.40 84.07 460.88 81.40 462.50 81.40 C464.12 81.40 466.55 82.40 467.90 84.00 C469.25 85.60 469.00 88.68 470.60 91.00 C472.20 93.32 475.22 95.15 477.50 97.90 C479.78 100.65 482.02 103.85 484.30 107.50 C486.58 111.15 489.13 115.22 491.20 119.80 C493.27 124.38 494.52 128.35 496.70 135.00 C498.88 141.65 501.88 151.00 504.30 159.70 C506.72 168.40 508.92 178.03 511.20 187.20 C513.48 196.37 516.48 207.57 518.00 214.70 C519.52 221.83 519.10 223.40 520.30 230.00 C521.50 236.60 523.63 244.53 525.20 254.30 C526.77 264.07 528.82 280.98 529.70 288.60 C530.58 296.22 529.67 292.85 530.50 300.00 C531.33 307.15 533.28 322.05 534.70 331.50 C536.12 340.95 537.62 349.35 539.00 356.70 C540.38 364.05 541.83 371.05 543.00 375.60 C544.17 380.15 545.10 382.05 546.00 384.00 C546.90 385.95 547.73 386.65 548.40 387.30 C549.07 387.95 529.48 387.80 550.00 387.90 C570.52 388.00 651.25 387.90 671.50 387.90" stroke="#edb120" stroke-width="2.0"/>
<path d="M62.5 387.9 L151.0 387.9 L151.5 387.6 L152.0 387.3 L152.5 386.9 L153.0 386.7 L153.5 386.3 L154.0 386.1 L154.5 385.6 L155.0 385.3 L155.5 384.8 L156.0 384.5 L156.5 383.9 L157.0 383.5 L157.5 382.9 L158.0 381.5 L158.5 379.9 L159.0 378.1 L159.5 375.9 L160.0 374.1 L160.5 371.9 L161.0 370.1 L161.5 364.7 L162.0 359.8 L162.5 354.3 L163.0 349.2 L163.4 344.8 L163.5 344.5 L164.0 341.5 L164.5 338.8 L165.0 335.6 L165.5 333.0 L166.0 329.9 L166.5 327.2 L167.0 323.9 L167.5 321.4 L168.0 318.2 L168.5 315.7 L169.0 312.4 L169.5 309.8 L170.0 306.6 L170.5 304.0 L171.0 300.5 L171.5 298.0 L172.0 294.9 L172.5 292.9 L173.0 290.3 L173.5 288.5 L174.0 286.0 L174.5 284.1 L175.0 281.4 L175.5 279.8 L176.0 277.1 L176.5 275.4 L177.0 272.8 L177.5 271.1 L178.0 268.5 L178.5 267.1 L179.0 264.2 L179.5 262.8 L180.0 260.3 L180.5 258.7 L181.0 256.1 L181.5 254.5 L182.0 251.9 L182.5 250.1 L183.0 248.0 L183.5 247.3 L184.0 244.8 L184.5 244.0 L185.0 241.6 L185.5 240.9 L186.0 238.5 L186.5 237.8 L187.0 235.5 L187.5 234.4 L188.0 232.1 L188.5 231.6 L189.0 229.1 L189.5 228.3 L190.0 226.4 L190.5 225.2 L191.0 223.2 L191.5 222.6 L192.0 220.2 L192.5 219.7 L193.0 217.4 L193.5 216.5 L194.0 214.1 L194.5 213.7 L195.0 211.5 L195.5 210.7 L196.0 208.3 L196.5 208.1 L197.0 205.5 L197.5 205.0 L198.0 202.9 L198.5 203.0 L199.0 200.8 L199.5 200.4 L200.0 198.5 L200.5 198.1 L201.0 196.0 L201.5 196.0 L202.0 193.6 L202.5 194.0 L203.0 190.9 L203.5 190.7 L204.0 188.9 L204.3 189.2 L204.5 187.1 L205.0 186.9 L205.5 184.5 L206.0 184.4 L206.5 181.6 L207.0 181.7 L207.5 179.1 L208.0 178.4 L208.5 176.2 L209.0 175.9 L209.5 173.6 L210.0 173.8 L210.5 171.4 L211.0 172.3 L211.5 168.6 L212.0 168.7 L212.5 166.5 L213.0 166.5 L213.5 164.1 L214.0 165.0 L214.5 162.3 L215.0 162.8 L215.5 160.3 L216.0 160.4 L216.5 158.0 L217.0 158.7 L217.5 156.3 L218.0 156.5 L218.5 154.0 L219.0 153.7 L219.5 150.6 L220.0 152.1 L220.5 148.3 L220.6 149.5 L221.0 147.6 L221.5 147.3 L222.0 144.3 L222.5 145.1 L223.0 140.7 L223.5 141.8 L224.0 139.5 L224.5 139.7 L225.0 136.7 L225.5 137.1 L226.0 134.4 L226.5 134.7 L227.0 131.9 L227.5 132.8 L228.0 130.1 L228.5 131.2 L229.0 127.3 L229.5 128.1 L230.0 125.5 L230.5 126.8 L231.0 123.2 L231.5 124.3 L232.0 121.5 L232.5 121.4 L233.0 118.9 L233.5 119.8 L234.0 117.5 L234.5 118.3 L235.0 114.1 L235.5 115.5 L236.0 113.0 L236.5 113.7 L237.0 111.6 L237.5 111.5 L238.0 109.6 L238.5 110.1 L239.0 107.6 L239.5 108.3 L240.0 105.9 L240.5 106.6 L241.0 103.3 L241.5 105.0 L242.0 101.6 L242.5 103.2 L243.0 100.3 L243.5 100.6 L244.0 97.9 L244.5 99.1 L245.0 96.6 L245.5 98.2 L246.0 94.9 L246.5 96.2 L247.0 94.3 L247.5 95.0 L248.0 90.5 L248.5 93.3 L249.0 90.6 L249.5 91.7 L250.0 89.2 L250.5 90.3 L251.0 87.5 L251.5 88.5 L252.0 85.8 L252.5 89.1 L253.0 85.4 L253.5 86.1 L254.0 83.6 L254.5 84.7 L255.0 81.0 L255.5 83.8 L256.0 81.3 L256.5 82.7 L257.0 80.2 L257.5 82.1 L258.0 78.1 L258.5 80.5 L259.0 77.3 L259.5 79.3 L260.0 75.7 L260.5 77.9 L261.0 75.4 L261.5 78.1 L262.0 74.6 L262.4 77.4 L262.5 74.3 L263.0 77.2 L263.5 72.8 L264.0 73.0 L264.3 70.7 L264.5 75.8 L265.0 81.5 L265.2 87.4 L265.5 78.8 L266.0 71.9 L266.2 64.5 L266.5 68.7 L267.0 63.1 L267.5 64.3 L268.0 62.1 L268.5 63.3 L269.0 59.9 L269.5 61.0 L270.0 56.8 L270.5 59.8 L270.6 54.7 L271.0 58.6 L271.5 56.2 L272.0 56.9 L272.5 55.0 L273.0 57.6 L273.5 52.7 L274.0 55.5 L274.5 52.7 L275.0 54.7 L275.5 51.8 L276.0 53.8 L276.5 50.3 L277.0 51.9 L277.5 49.6 L278.0 53.3 L278.5 47.8 L279.0 50.2 L279.5 48.1 L280.0 51.1 L280.5 47.2 L281.0 50.0 L281.5 45.7 L282.0 50.1 L282.5 45.6 L283.0 48.2 L283.5 45.1 L284.0 47.4 L284.3 44.6 L284.5 47.3 L285.0 43.5 L285.5 47.2 L286.0 42.7 L286.5 44.8 L287.0 41.8 L287.5 44.5 L288.0 41.2 L288.5 44.1 L289.0 40.3 L289.5 42.7 L290.0 39.2 L290.5 41.9 L291.0 39.6 L291.2 43.2 L291.5 37.7 L292.0 40.7 L292.5 38.4 L293.0 40.9 L293.5 38.7 L294.0 41.3 L294.5 38.1 L295.0 41.1 L295.5 36.9 L296.0 40.0 L296.5 36.4 L296.7 40.2 L297.0 37.4 L297.5 40.7 L298.0 37.6 L298.5 39.8 L299.0 38.2 L299.5 41.1 L300.0 37.8 L300.5 43.4 L301.0 39.1 L301.5 40.9 L302.0 38.5 L302.5 41.7 L303.0 39.6 L303.5 43.2 L304.0 39.2 L304.5 43.8 L305.0 39.2 L305.5 43.6 L306.0 40.0 L306.5 43.5 L307.0 39.8 L307.5 41.9 L308.0 39.1 L308.5 41.2 L309.0 37.9 L309.5 42.2 L310.0 38.8 L310.5 41.9 L311.0 38.6 L311.5 40.6 L312.0 36.0 L312.5 42.1 L313.0 36.2 L313.5 38.9 L314.0 35.2 L314.5 37.8 L315.0 35.9 L315.5 38.4 L316.0 35.1 L316.5 37.5 L317.0 34.1 L317.5 37.9 L318.0 33.2 L318.5 36.7 L319.0 31.6 L319.5 36.3 L320.0 31.2 L320.5 35.8 L321.0 30.2 L321.5 34.5 L322.0 29.8 L322.5 33.4 L323.0 29.0 L323.5 32.5 L324.0 29.4 L324.5 31.4 L325.0 28.9 L325.5 30.1 L326.0 26.1 L326.5 29.1 L327.0 25.7 L327.5 29.0 L328.0 26.4 L328.5 28.6 L329.0 24.8 L329.5 28.2 L330.0 25.6 L330.5 28.2 L331.0 23.3 L331.5 27.7 L332.0 22.6 L332.5 28.1 L333.0 30.2 L333.5 39.9 L333.8 39.8 L334.0 42.4 L334.5 30.9 L335.0 27.8 L335.5 23.8 L336.0 26.1 L336.5 20.7 L336.6 25.0 L337.0 22.0 L337.5 27.6 L338.0 21.2 L338.5 25.9 L339.0 23.1 L339.5 25.4 L340.0 21.0 L340.5 26.0 L341.0 19.5 L341.5 27.6 L342.0 21.2 L342.5 29.1 L343.0 22.1 L343.5 32.4 L344.0 22.2 L344.5 28.7 L345.0 24.8 L345.5 28.2 L346.0 25.3 L346.2 28.9 L346.5 24.6 L347.0 28.0 L347.5 24.6 L348.0 30.8 L348.5 26.5 L349.0 30.8 L349.5 25.1 L350.0 28.9 L350.5 24.7 L351.0 31.3 L351.5 26.5 L352.0 30.6 L352.5 26.8 L353.0 30.9 L353.5 25.9 L354.0 33.2 L354.5 25.9 L355.0 35.4 L355.5 27.0 L356.0 32.3 L356.5 27.8 L357.0 32.9 L357.2 28.1 L357.5 30.3 L358.0 24.9 L358.5 32.2 L359.0 25.3 L359.5 30.9 L360.0 25.0 L360.5 30.5 L361.0 24.2 L361.5 30.1 L362.0 22.6 L362.5 26.2 L362.7 23.1 L363.0 26.4 L363.5 22.8 L364.0 29.1 L364.5 24.3 L365.0 29.7 L365.5 24.0 L366.0 27.5 L366.5 22.2 L367.0 29.8 L367.5 25.2 L368.0 29.8 L368.5 25.9 L369.0 29.9 L369.5 25.4 L370.0 29.6 L370.5 26.4 L371.0 29.1 L371.5 25.4 L372.0 30.9 L372.5 24.5 L373.0 32.1 L373.5 27.5 L374.0 30.7 L374.5 27.4 L375.0 32.9 L375.5 24.9 L376.0 30.5 L376.5 25.6 L377.0 33.0 L377.5 27.0 L378.0 32.4 L378.5 24.5 L379.0 32.2 L379.5 29.5 L380.0 33.8 L380.5 28.6 L381.0 34.2 L381.5 26.6 L382.0 35.0 L382.5 28.1 L383.0 34.8 L383.5 29.6 L384.0 36.2 L384.5 30.6 L385.0 36.9 L385.5 31.3 L386.0 36.4 L386.5 31.3 L387.0 36.4 L387.5 31.1 L388.0 37.9 L388.5 31.5 L389.0 38.4 L389.5 30.5 L390.0 36.8 L390.5 33.1 L391.0 36.7 L391.5 33.2 L392.0 37.8 L392.5 33.3 L393.0 40.1 L393.5 33.2 L394.0 38.6 L394.5 34.9 L395.0 39.3 L395.5 35.0 L396.0 36.9 L396.5 28.4 L397.0 36.4 L397.5 31.0 L398.0 37.7 L398.5 31.2 L399.0 37.7 L399.5 31.5 L400.0 33.9 L400.5 28.3 L401.0 34.8 L401.5 30.8 L402.0 36.5 L402.5 29.6 L403.0 35.5 L403.5 29.9 L404.0 35.0 L404.5 32.5 L405.0 35.5 L405.5 32.0 L406.0 38.9 L406.5 33.7 L407.0 39.8 L407.5 34.7 L408.0 40.1 L408.5 37.0 L409.0 41.5 L409.5 38.8 L410.0 43.6 L410.5 39.7 L411.0 44.3 L411.5 40.9 L412.0 45.6 L412.5 44.1 L413.0 47.1 L413.5 43.0 L414.0 48.5 L414.5 46.1 L415.0 48.5 L415.5 46.2 L416.0 50.1 L416.5 48.6 L416.9 54.2 L417.0 48.7 L417.5 51.7 L418.0 49.4 L418.5 52.7 L419.0 50.4 L419.5 53.8 L420.0 50.9 L420.5 54.3 L421.0 50.9 L421.5 55.2 L422.0 52.3 L422.5 55.3 L423.0 52.7 L423.5 55.7 L423.7 54.2 L424.0 57.4 L424.5 54.2 L425.0 57.4 L425.5 55.7 L426.0 57.3 L426.5 56.1 L427.0 58.5 L427.5 57.5 L428.0 59.8 L428.5 57.1 L429.0 59.9 L429.5 59.2 L430.0 61.4 L430.5 59.6 L430.6 61.0 L431.0 60.1 L431.5 61.8 L432.0 59.8 L432.5 62.4 L433.0 61.3 L433.5 65.8 L434.0 61.8 L434.5 65.2 L435.0 62.6 L435.5 64.5 L436.0 62.7 L436.5 65.7 L437.0 63.4 L437.5 65.9 L438.0 64.5 L438.5 67.2 L439.0 65.8 L439.5 68.5 L440.0 67.0 L440.5 70.2 L441.0 68.5 L441.5 71.5 L442.0 69.0 L442.5 71.9 L443.0 69.2 L443.5 72.2 L444.0 70.9 L444.5 72.9 L445.0 72.1 L445.5 73.8 L445.7 72.8 L446.0 74.6 L446.5 72.9 L447.0 76.8 L447.5 74.6 L448.0 78.0 L448.5 76.3 L449.0 80.1 L449.5 80.7 L450.0 84.8 L450.5 84.9 L451.0 89.2 L451.2 87.2 L451.5 92.6 L452.0 91.9 L452.5 95.6 L453.0 97.0 L453.5 102.0 L454.0 102.0 L454.1 103.8 L454.5 101.0 L455.0 103.0 L455.5 100.6 L456.0 102.3 L456.5 99.1 L457.0 100.3 L457.5 98.5 L458.0 99.5 L458.5 96.5 L459.0 98.1 L459.5 95.7 L460.0 96.6 L460.5 94.5 L461.0 96.6 L461.5 94.5 L462.0 97.0 L462.5 95.9 L463.0 99.3 L463.5 96.5 L464.0 100.1 L464.5 99.5 L465.0 101.4 L465.5 100.6 L466.0 102.9 L466.5 102.2 L467.0 104.6 L467.5 103.3 L467.9 105.3 L468.0 102.7 L468.5 102.8 L469.0 96.3 L469.5 94.2 L469.9 90.6 L470.0 94.2 L470.5 102.5 L470.6 105.8 L471.0 104.3 L471.5 107.3 L472.0 106.6 L472.5 109.0 L473.0 107.6 L473.5 110.8 L474.0 108.5 L474.5 111.3 L475.0 110.3 L475.5 113.5 L476.0 109.9 L476.5 114.1 L477.0 113.6 L477.5 117.0 L478.0 115.5 L478.5 118.3 L479.0 117.4 L479.5 119.6 L479.7 117.9 L480.0 120.5 L480.5 118.8 L481.0 122.3 L481.5 120.3 L482.0 122.5 L482.5 121.0 L483.0 124.6 L483.5 123.0 L484.0 125.2 L484.3 123.7 L484.5 126.2 L485.0 124.8 L485.5 127.0 L486.0 125.9 L486.5 128.4 L487.0 127.9 L487.5 129.6 L488.0 128.5 L488.5 131.1 L488.8 128.5 L489.0 132.0 L489.5 130.9 L490.0 134.4 L490.5 132.8 L491.0 135.7 L491.5 134.4 L492.0 137.7 L492.5 136.4 L493.0 139.8 L493.5 138.9 L494.0 141.4 L494.5 140.3 L495.0 143.1 L495.5 141.5 L496.0 145.0 L496.5 143.8 L497.0 147.1 L497.5 146.3 L498.0 148.2 L498.5 148.2 L499.0 151.5 L499.5 150.3 L500.0 153.7 L500.5 153.4 L501.0 156.6 L501.5 156.1 L502.0 159.0 L502.5 158.0 L503.0 161.7 L503.5 160.9 L504.0 164.4 L504.5 164.1 L505.0 167.8 L505.5 167.7 L506.0 171.2 L506.5 171.1 L507.0 174.2 L507.5 174.8 L508.0 177.6 L508.5 177.6 L509.0 180.7 L509.5 182.4 L510.0 186.3 L510.5 187.9 L511.0 192.3 L511.5 193.7 L512.0 197.6 L512.5 199.0 L512.6 201.0 L513.0 201.5 L513.5 205.6 L514.0 207.2 L514.5 210.6 L515.0 212.2 L515.5 215.8 L516.0 217.8 L516.5 222.2 L517.0 222.4 L517.5 226.4 L518.0 227.5 L518.5 231.4 L519.0 231.3 L519.5 236.4 L520.0 237.3 L520.5 242.0 L521.0 242.4 L521.5 246.0 L522.0 247.3 L522.5 250.9 L523.0 252.6 L523.5 256.3 L524.0 257.8 L524.5 261.2 L525.0 262.3 L525.5 266.1 L526.0 267.8 L526.5 271.5 L527.0 274.1 L527.5 277.8 L528.0 280.0 L528.5 283.9 L529.0 286.4 L529.5 290.1 L530.0 292.6 L530.5 296.6 L531.0 299.2 L531.5 303.4 L532.0 305.8 L532.5 310.1 L533.0 312.6 L533.5 317.1 L534.0 319.5 L534.5 323.6 L535.0 325.7 L535.5 329.7 L536.0 332.3 L536.5 336.1 L537.0 338.3 L537.5 342.2 L538.0 344.6 L538.5 348.4 L539.0 350.4 L539.5 354.0 L540.0 356.0 L540.5 359.6 L541.0 361.9 L541.5 365.5 L542.0 367.8 L542.5 370.0 L543.0 371.5 L543.5 373.9 L544.0 375.2 L544.5 377.6 L545.0 378.8 L545.5 381.3 L546.0 382.9 L546.5 383.9 L547.0 384.5 L547.5 385.5 L548.0 386.2 L548.5 387.1 L549.0 387.9 L671.5 387.9" stroke="#a2142f" stroke-width="2.0"/>
<path d="M62.50 387.90 C78.33 387.90 141.25 388.12 157.50 387.90 C173.75 387.68 159.32 387.17 160.00 386.60 C160.68 386.03 161.03 385.60 161.60 384.50 C162.17 383.40 162.62 384.08 163.40 380.00 C164.18 375.92 165.33 366.67 166.30 360.00 C167.27 353.33 167.97 350.00 169.20 340.00 C170.43 330.00 172.18 315.00 173.70 300.00 C175.22 285.00 176.82 266.67 178.30 250.00 C179.78 233.33 181.50 212.42 182.60 200.00 C183.70 187.58 184.13 183.78 184.90 175.50 C185.67 167.22 186.43 157.93 187.20 150.30 C187.97 142.67 188.75 135.80 189.50 129.70 C190.25 123.60 190.95 118.65 191.70 113.70 C192.45 108.75 193.40 103.88 194.00 100.00 C194.60 96.12 194.67 93.82 195.30 90.40 C195.93 86.98 196.92 82.85 197.80 79.50 C198.68 76.15 199.53 72.90 200.60 70.30 C201.67 67.70 202.83 66.03 204.20 63.90 C205.57 61.77 206.97 59.33 208.80 57.50 C210.63 55.67 213.52 54.28 215.20 52.90 C216.88 51.52 217.52 50.73 218.90 49.20 C220.28 47.67 221.82 45.37 223.50 43.70 C225.18 42.03 227.08 40.42 229.00 39.20 C230.92 37.98 232.38 37.68 235.00 36.40 C237.62 35.12 242.20 32.55 244.70 31.50 C247.20 30.45 247.28 31.02 250.00 30.10 C252.72 29.18 257.33 27.48 261.00 26.00 C264.67 24.52 268.12 22.35 272.00 21.20 C275.88 20.05 280.42 19.68 284.30 19.10 C288.18 18.52 291.85 17.98 295.30 17.70 C298.75 17.42 301.10 17.65 305.00 17.40 C308.90 17.15 314.12 16.57 318.70 16.20 C323.28 15.83 327.92 15.32 332.50 15.20 C337.08 15.08 340.78 15.45 346.20 15.50 C351.62 15.55 359.37 15.42 365.00 15.50 C370.63 15.58 375.00 15.83 380.00 16.00 C385.00 16.17 391.67 16.50 395.00 16.50 C398.33 16.50 397.50 15.70 400.00 16.00 C402.50 16.30 406.67 17.63 410.00 18.30 C413.33 18.97 416.67 19.43 420.00 20.00 C423.33 20.57 426.67 21.20 430.00 21.70 C433.33 22.20 436.67 22.23 440.00 23.00 C443.33 23.77 447.50 24.97 450.00 26.30 C452.50 27.63 453.00 30.43 455.00 31.00 C457.00 31.57 459.50 29.53 462.00 29.70 C464.50 29.87 467.00 30.85 470.00 32.00 C473.00 33.15 476.67 35.10 480.00 36.60 C483.33 38.10 486.67 39.02 490.00 41.00 C493.33 42.98 497.33 45.92 500.00 48.50 C502.67 51.08 504.00 52.92 506.00 56.50 C508.00 60.08 510.33 65.75 512.00 70.00 C513.67 74.25 514.88 78.33 516.00 82.00 C517.12 85.67 517.98 89.00 518.70 92.00 C519.42 95.00 519.65 93.67 520.30 100.00 C520.95 106.33 521.90 121.67 522.60 130.00 C523.30 138.33 523.48 138.33 524.50 150.00 C525.52 161.67 527.83 188.33 528.70 200.00 C529.57 211.67 529.15 211.67 529.70 220.00 C530.25 228.33 531.17 236.67 532.00 250.00 C532.83 263.33 533.72 288.17 534.70 300.00 C535.68 311.83 536.85 314.00 537.90 321.00 C538.95 328.00 539.95 335.00 541.00 342.00 C542.05 349.00 543.15 356.70 544.20 363.00 C545.25 369.30 546.43 375.95 547.30 379.80 C548.17 383.65 548.78 384.82 549.40 386.10 C550.02 387.38 530.65 387.27 551.00 387.50 C571.35 387.73 651.42 387.50 671.50 387.50" stroke="#d41a1a" stroke-width="2.3" stroke-linecap="butt"/>
</g>
<g font-family="Liberation Sans, sans-serif" fill="#262626"><text x="63.70" y="410.5" text-anchor="middle" font-size="16">4</text><text x="131.97" y="410.5" text-anchor="middle" font-size="16">6</text><text x="200.73" y="410.5" text-anchor="middle" font-size="16">8</text><text x="266.50" y="410.5" text-anchor="middle" font-size="16">10</text><text x="335.37" y="410.5" text-anchor="middle" font-size="16">12</text><text x="402.83" y="410.5" text-anchor="middle" font-size="16">14</text><text x="469.90" y="410.5" text-anchor="middle" font-size="16">16</text><text x="539.17" y="410.5" text-anchor="middle" font-size="16">18</text><text x="607.13" y="410.5" text-anchor="middle" font-size="16">20</text><text x="674.70" y="410.5" text-anchor="middle" font-size="16">22</text><text x="56.6" y="393.30" text-anchor="end" font-size="15">0</text><text x="56.6" y="329.97" text-anchor="end" font-size="15">200</text><text x="56.6" y="266.63" text-anchor="end" font-size="15">400</text><text x="56.6" y="203.30" text-anchor="end" font-size="15">600</text><text x="56.6" y="139.97" text-anchor="end" font-size="15">800</text><text x="56.6" y="76.63" text-anchor="end" font-size="15">1000</text><text x="56.6" y="13.30" text-anchor="end" font-size="15">1200</text></g>
<text x="367.5" y="432" text-anchor="middle" font-family="Liberation Sans, sans-serif" font-size="17" font-weight="bold" fill="#262626">Time (h)</text>
<text transform="translate(14 198.6) rotate(-90)" x="0" y="0" text-anchor="middle" font-family="Liberation Sans, sans-serif" font-size="17" font-weight="bold" fill="#262626">Power (W)</text>
</svg>
</body></html>
